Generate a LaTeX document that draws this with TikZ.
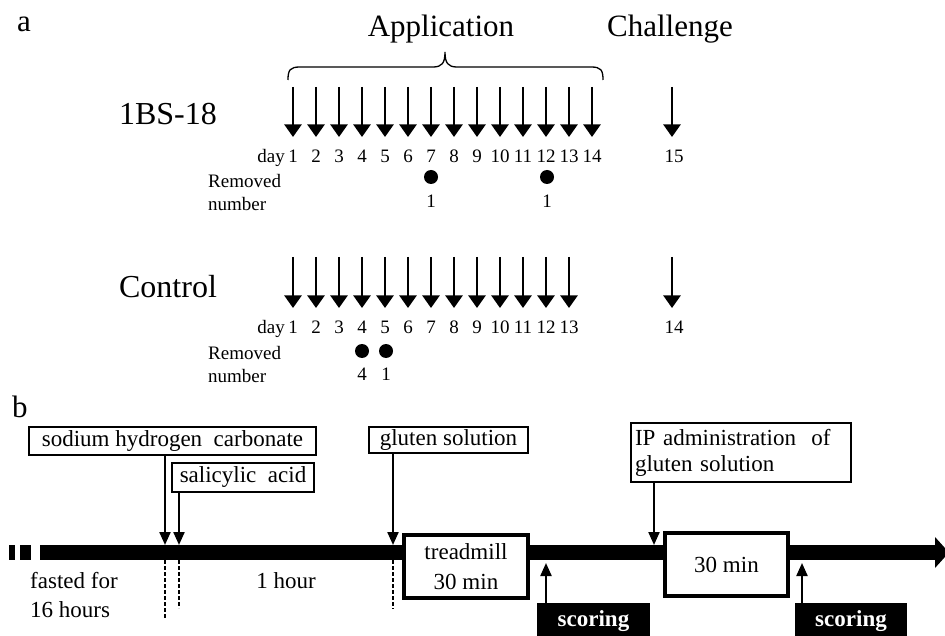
\documentclass[tikz,border=0pt]{standalone}
\usepackage{fontspec}
\setmainfont{Liberation Serif}
\usetikzlibrary{arrows.meta}
\newcommand\myfs[2]{\fontsize{#1}{#2}\selectfont}
\begin{document}
\begin{tikzpicture}[x=1pt,y=-1pt,
  big/.style={font=\myfs{31}{36}, inner sep=0},
  small/.style={font=\myfs{19}{22}, inner sep=0},
  btxt/.style={font=\myfs{23}{28}, inner sep=0},
  darr/.style={line width=2.3pt, -{Triangle[width=17pt,length=12.5pt]}},
  tlarr/.style={line width=2.2pt, -{Triangle[width=11pt,length=13pt]}},
  thinbox/.style={draw, line width=1.4pt, fill=white, inner sep=0, font=\myfs{23}{26}},
  thickbox/.style={draw, line width=4pt, fill=white, inner sep=0, font=\myfs{23}{30}, align=center},
  scorebox/.style={fill=black, text=white, inner sep=0, font=\myfs{23}{26}\bfseries},
  vdash/.style={line width=1.1pt, dash pattern=on 4pt off 2pt},
  dot/.style={circle, fill=black, inner sep=0, minimum size=14pt}]
\useasboundingbox (0,0) rectangle (945,636);

% ---------- part a ----------
\node[big] (la) at (24,24) {a};
\node[big, anchor=base] (app) at (441,37) {Application};
\node[big, anchor=base] (chal) at (670,37) {Challenge};
\draw[line width=1.3pt] (288,80) .. controls (288,70) and (290,67) .. (300,67) -- (433,67)
  .. controls (442,67) and (445,63) .. (445,52) .. controls (445,63) and (448,67) .. (457,67)
  -- (591,67) .. controls (601,67) and (603,70) .. (603,80);

% 1BS-18
\node[big, anchor=base, font=\myfs{32}{36}] (g1) at (168,125) {1BS-18};
\node[small, anchor=base east] (day1) at (285,163) {day};
\foreach \i in {1,...,14}{
  \coordinate (p\i) at ({293+23*(\i-1)},87);
  \coordinate (q\i) at ({293+23*(\i-1)},137);
  \draw[darr] (p\i) -- (q\i);
  \node[small, anchor=base] (n\i) at ({293+23*(\i-1)},163) {\i};
}
\coordinate (pc) at (672,87); \coordinate (qc) at (672,137);
\draw[darr] (pc) -- (qc);
\node[small, anchor=base] (n15) at (674,163) {15};
\node[small, anchor=base west] (rem1) at (208,188) {Removed};
\node[small, anchor=base west] (num1) at (208,211) {number};
\node[dot] (d7) at (431,177) {};
\node[dot] (d12) at (547,177) {};
\node[small, anchor=base] (r7) at (431,208) {1};
\node[small, anchor=base] (r12) at (547,208) {1};

% Control
\node[big, anchor=base, font=\myfs{32}{36}] (g2) at (168,298) {Control};
\node[small, anchor=base east] (day2) at (285,334) {day};
\foreach \i in {1,...,13}{
  \coordinate (s\i) at ({293+23*(\i-1)},257);
  \coordinate (t\i) at ({293+23*(\i-1)},308);
  \draw[darr] (s\i) -- (t\i);
  \node[small, anchor=base] (m\i) at ({293+23*(\i-1)},334) {\i};
}
\coordinate (sc) at (672,257); \coordinate (tc) at (672,308);
\draw[darr] (sc) -- (tc);
\node[small, anchor=base] (m14) at (674,334) {14};
\node[small, anchor=base west] (rem2) at (208,359) {Removed};
\node[small, anchor=base west] (num2) at (208,382) {number};
\node[dot] (d4) at (362,351) {};
\node[dot] (d5) at (386,351) {};
\node[small, anchor=base] (r4) at (362,380) {4};
\node[small, anchor=base] (r5) at (386,380) {1};

% ---------- part b ----------
\node[big] (lb) at (20,407) {b};

% timeline bar
\fill (9,545) rectangle (15,560);
\fill (20,545) rectangle (31,560);
\fill (40,545) rectangle (937,560);
\fill (935,537) -- (949,552.5) -- (935,568) -- cycle;

% boxes above
\node[thinbox, minimum width=287pt, minimum height=28pt] (sod) at (172.5,441) {sodium hydrogen\ \ carbonate};
\node[thinbox, minimum width=142pt, minimum height=29pt] (sal) at (243,477.5) {salicylic\ \ acid};
\node[thinbox, minimum width=159pt, minimum height=26pt] (glu) at (448.5,440) {gluten solution};
\node[thinbox, minimum width=220pt, minimum height=59pt, text width=212pt, align=left, font=\myfs{23}{26}] (ip) at (741,452.5) {IP administration\ \ of\\gluten solution};

\coordinate (b1) at (165,545);
\coordinate (b2) at (179,545);
\coordinate (b3) at (393,545);
\coordinate (b4) at (654,545);
\draw[tlarr] (sod.south -| b1) -- (b1);
\draw[tlarr] (sal.south -| b2) -- (b2);
\draw[tlarr] (glu.south -| b3) -- (b3);
\draw[tlarr] (ip.south -| b4) -- (b4);

% dashed
\coordinate (e1) at (165,618);
\coordinate (e2) at (179,608);
\coordinate (e3) at (393,609);
\draw[vdash] (165,560) -- (e1);
\draw[vdash] (179,560) -- (e2);
\draw[vdash] (393,560) -- (e3);

% boxes on bar
\node[thickbox, minimum width=124pt, minimum height=63pt] (tread) at (466,566.5) {treadmill\\30 min};
\node[thickbox, minimum width=123pt, minimum height=63pt] (thirty) at (726.5,564.5) {30 min};

% scoring
\node[scorebox, minimum width=113pt, minimum height=37pt] (sc1) at (593.5,621.5) {scoring};
\node[scorebox, minimum width=112pt, minimum height=37pt] (sc2) at (851,621.5) {scoring};
\coordinate (u1) at (546,563);
\coordinate (u2) at (802,563);
\draw[tlarr] (sc1.north -| u1) -- (u1);
\draw[tlarr] (sc2.north -| u2) -- (u2);

% texts
\node[btxt, anchor=base west] (f1) at (30,588) {fasted for};
\node[btxt, anchor=base west] (f2) at (30,617) {16 hours};
\node[btxt, anchor=base] (hr) at (286,588) {1 hour};
\end{tikzpicture}
\end{document}
